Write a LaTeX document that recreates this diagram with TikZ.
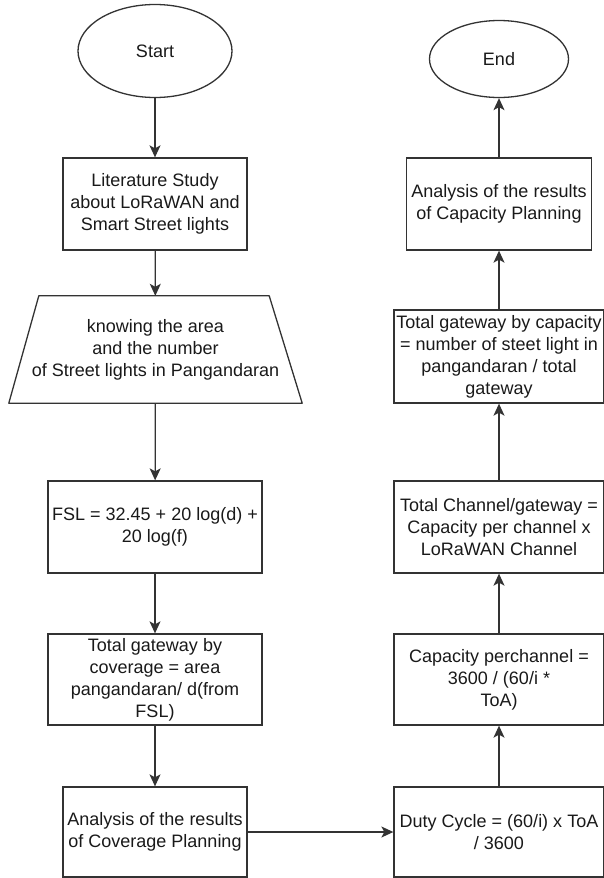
\documentclass[tikz,border=0pt]{standalone}
\usepackage{fontspec}
\setmainfont{Liberation Sans}
\usetikzlibrary{shapes.geometric,arrows.meta}

\begin{document}
\begin{tikzpicture}[x=1pt,y=-1pt,
  every node/.style={font=\fontsize{18}{22}\selectfont,align=center,inner sep=0pt,text=black!90},
  box/.style={draw=black!80,line width=1.3pt,rectangle},
  term/.style={draw=black!80,line width=1.3pt,ellipse},
  arr/.style={draw=black!80,line width=1.3pt,-{Stealth[length=12pt,width=11pt,inset=3pt]}}]
\useasboundingbox (0,0) rectangle (604,878);
\node[term,minimum width=154,minimum height=93] (start) at (155,51) {Start};
\node[box,minimum width=184,minimum height=92] (lit) at (155,204) {Literature Study\\about LoRaWAN and\\Smart Street lights};
\node[minimum width=293,minimum height=107] (know) at (155.5,349.5) {knowing the area\\and the number\\of Street lights in Pangandaran};
\draw[draw=black!80,line width=1.3pt,line join=round] ([xshift=30pt]know.north west) -- ([xshift=-33pt]know.north east) -- (know.south east) -- (know.south west) -- cycle;
\node[box,minimum width=214,minimum height=92] (fsl) at (155,527) {FSL = 32.45 + 20 log(d) +\\20 log(f)};
\node[box,minimum width=214,minimum height=91] (cov) at (155,679.5) {Total gateway by\\coverage = area\\pangandaran/ d(from\\FSL)};
\node[box,minimum width=184,minimum height=90] (anacov) at (155,832) {Analysis of the results\\of Coverage Planning};
\node[term,minimum width=139,minimum height=77] (end) at (499,59) {End};
\node[box,minimum width=185,minimum height=92] (anacap) at (499,204) {Analysis of the results\\of Capacity Planning};
\node[box,minimum width=210,minimum height=93] (totgw) at (499,356.5) {Total gateway by capacity\\= number of steet light in\\pangandaran / total\\gateway};
\node[box,minimum width=210,minimum height=92] (totch) at (499,527) {Total Channel/gateway =\\Capacity per channel x\\LoRaWAN Channel};
\node[box,minimum width=210,minimum height=91] (capch) at (499,679.5) {Capacity perchannel =\\3600 / (60/i *\\ToA)};
\node[box,minimum width=210,minimum height=90] (duty) at (499,832) {Duty Cycle = (60/i) x ToA\\/ 3600};
\draw[arr] (start) -- (lit);
\draw[arr] (lit) -- (know);
\draw[arr] (know) -- (fsl);
\draw[arr] (fsl) -- (cov);
\draw[arr] (cov) -- (anacov);
\draw[arr] (anacov) -- (duty);
\draw[arr] (duty) -- (capch);
\draw[arr] (capch) -- (totch);
\draw[arr] (totch) -- (totgw);
\draw[arr] (totgw) -- (anacap);
\draw[arr] (anacap) -- (end);
\end{tikzpicture}
\end{document}
